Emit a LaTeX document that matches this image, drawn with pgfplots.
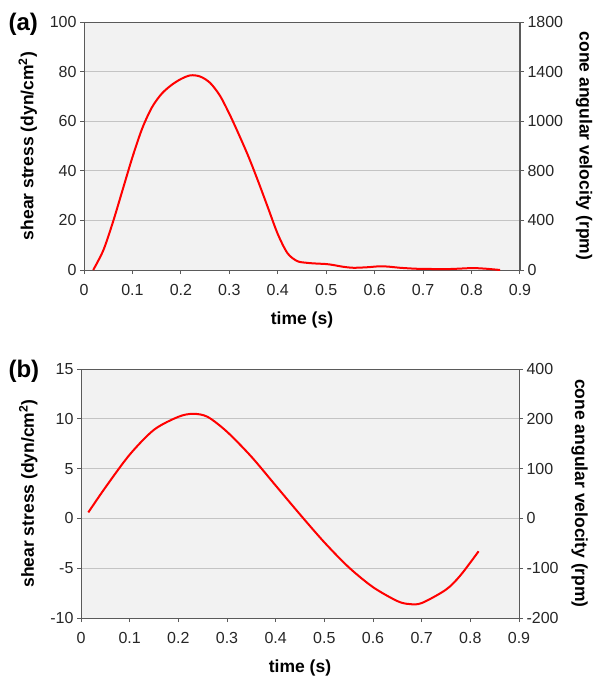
\documentclass[border=0pt]{standalone}
\usepackage{pgfplots}
\pgfplotsset{compat=1.18}
\usepackage{fontspec}
\setmainfont{Liberation Sans}
\definecolor{plotbg}{HTML}{F2F2F2}
\definecolor{gridc}{HTML}{C4C4C4}
\definecolor{axc}{HTML}{5A5A5A}
\pgfplotsset{
  base/.style={
    scale only axis,
    xmin=0, xmax=0.9,
    axis line style={axc, line width=1pt},
    tick style={axc, line width=1pt},
    tick align=outside, major tick length=4pt,
    ticklabel style={font=\fontsize{16}{18}\selectfont, text=black!85},
    label style={font=\bfseries\fontsize{17.5}{20}\selectfont},
    /pgf/number format/assume math mode=true,
  },
  panel/.style={
    base,
    xtick={0,0.1,0.2,0.3,0.4,0.5,0.6,0.7,0.8,0.9},
    xticklabels={0,0.1,0.2,0.3,0.4,0.5,0.6,0.7,0.8,0.9},
    xticklabel style={yshift=-7pt},
    axis background/.style={fill=plotbg},
    ymajorgrids, grid style={gridc, line width=0.9pt},
    xtick pos=bottom, ytick pos=left,
    xlabel={time (s)},
    xlabel style={at={(ticklabel cs:0.5,9pt)}},
    ylabel={shear stress (dyn/cm\textsuperscript{2})},
    ylabel style={at={(ticklabel cs:0.5,6pt)}},
  },
  twin/.style={
    base,
    axis x line=none,
    axis y line*=right,
    ylabel={cone angular velocity (rpm)},
    ylabel style={rotate=180, at={(ticklabel cs:0.5,6pt)}},
  },
}
\begin{document}
\begin{tikzpicture}
\useasboundingbox (0,0) rectangle (602pt,-683pt);

% panel (a)
\begin{axis}[panel, at={(84pt,-270pt)}, anchor=south west,
  width=436pt, height=248pt,
  ymin=0, ymax=100, ytick={0,20,40,60,80,100},
  yticklabels={0,20,40,60,80,100}]
\addplot[red, line width=2pt, smooth] coordinates {
  (0.019,0) (0.04,8) (0.06,19.5) (0.08,32.5) (0.10,45.5) (0.12,57)
  (0.14,65.5) (0.16,71) (0.18,74.5) (0.20,77) (0.22,78.5) (0.24,78)
  (0.26,75.5) (0.28,70.5) (0.30,63) (0.32,54.5) (0.34,45.5) (0.36,35.5)
  (0.38,25) (0.40,14.5) (0.42,6.8) (0.44,3.6) (0.46,2.9) (0.48,2.6)
  (0.50,2.4) (0.515,2.0) (0.535,1.3) (0.556,0.9) (0.584,1.1) (0.611,1.5)
  (0.632,1.3) (0.652,0.9) (0.687,0.5) (0.721,0.4) (0.756,0.4) (0.790,0.7)
  (0.804,0.8) (0.831,0.5) (0.859,0)
};
\end{axis}
\begin{axis}[twin, at={(84pt,-270pt)}, anchor=south west,
  width=436pt, height=248pt,
  ymin=0, ymax=100, ytick={0,20,40,60,80,100},
  yticklabels={0,400,800,1000,1400,1800}]
\end{axis}

% panel (b)
\begin{axis}[panel, at={(81pt,-618pt)}, anchor=south west,
  width=438pt, height=249pt,
  ymin=-10, ymax=15, ytick={-10,-5,0,5,10,15},
  yticklabels={-10,-5,0,5,10,15}]
\addplot[red, line width=2pt, smooth] coordinates {
  (0.015,0.6) (0.05,3.1) (0.10,6.4) (0.15,8.9) (0.20,10.2) (0.23,10.5)
  (0.26,10.2) (0.30,8.7) (0.35,6.2) (0.40,3.3) (0.45,0.4) (0.50,-2.4)
  (0.55,-4.9) (0.60,-6.9) (0.65,-8.3) (0.675,-8.6) (0.70,-8.5)
  (0.75,-7.15) (0.78,-5.7) (0.817,-3.3)
};
\end{axis}
\begin{axis}[twin, at={(81pt,-618pt)}, anchor=south west,
  width=438pt, height=249pt,
  ymin=-10, ymax=15, ytick={-10,-5,0,5,10,15},
  yticklabels={-200,-100,0,100,200,400}]
\end{axis}

\node[anchor=west, font=\bfseries\fontsize{24}{26}\selectfont] at (5pt,-24pt) {(a)};
\node[anchor=west, font=\bfseries\fontsize{24}{26}\selectfont] at (5pt,-371pt) {(b)};
\end{tikzpicture}
\end{document}
